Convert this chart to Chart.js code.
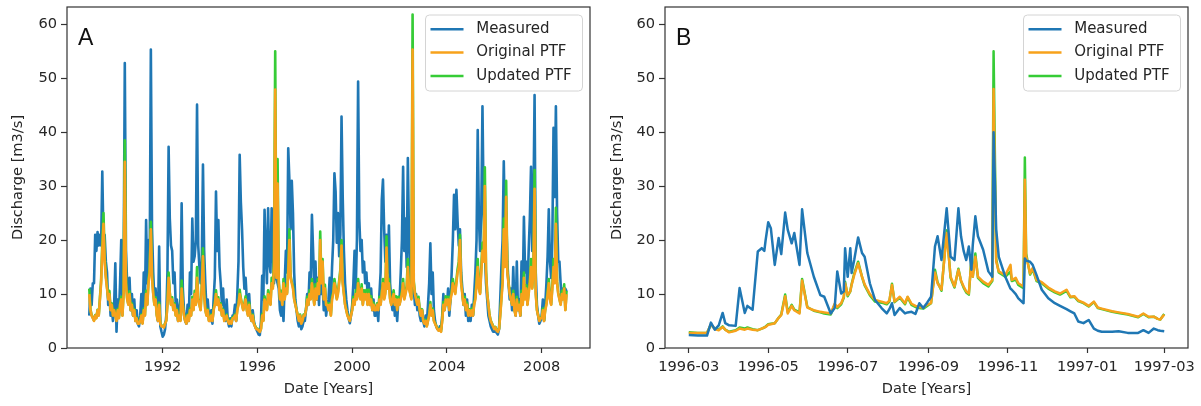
<!DOCTYPE html>
<html>
<head>
<meta charset="utf-8">
<script src="https://cdn.jsdelivr.net/npm/chart.js@4.4.1/dist/chart.umd.min.js"></script>
<style>
  html, body { margin: 0; padding: 0; background: #fff; }
  #wrap { position: relative; width: 1201px; height: 406px; overflow: hidden; }
  canvas { position: absolute; top: 0; }
  #chartA { left: 0; }
  #chartB { left: 600px; }
</style>
</head>
<body>
<div id="wrap">
  <canvas id="chartA" width="600" height="406"></canvas>
  <canvas id="chartB" width="601" height="406"></canvas>
</div>
<script>
// ---- shared ----
const seriesNames = ['Measured', 'Original PTF', 'Updated PTF'];
const seriesColors = ['#1f77b4', '#f7a21b', '#36cc36'];
const yTicks = [0, 10, 20, 30, 40, 50, 60];
const yMax = 63.2;

// ---- panel A: 1988.9 - 2009.05, one sample every 0.05 yr ----
const startA = 1988.9;
const stepA = 0.05;
const xTicksA = [1992, 1996, 2000, 2004, 2008];

const measuredA = [
  6, 11,
  8, 12, 12, 21, 18, 21.5, 19, 21, 19, 32.7, 20, 21, 16, 14, 8, 10, 6, 7.5, 5, 8,        // 1989
  15.7, 3, 9, 6, 12, 20, 9, 14, 52.8, 18, 12, 9, 13, 7, 10, 6, 9, 5, 7, 4.5,             // 1990
  4, 6, 10, 5, 14, 8, 23.7, 12, 20, 15, 55.3, 22, 14, 9, 11, 7, 5, 18.8, 4, 3,           // 1991
  2.1, 2.5, 3.5, 6, 14, 37.3, 24, 19, 18, 12, 14, 8, 9, 5, 7, 9, 26.8, 11, 7, 5,         // 1992
  4.5, 8, 5, 14, 10, 24, 16, 17, 20, 45.1, 19, 15, 12, 16, 34, 18, 12, 7, 9, 6,          // 1993
  5, 7, 4.5, 9, 13, 29, 18, 23.7, 15, 12, 8, 11, 6, 5, 9, 5, 4, 5.5, 4, 6,               // 1994
  6, 8, 5, 10, 16, 35.8, 27, 22, 15, 11, 13, 9, 7, 10, 6, 5, 7, 5, 4, 3.5,               // 1995
  3, 2.5, 2.4, 5, 13.4, 9, 25.6, 18, 12, 25.9, 16, 14, 25.9, 18, 12, 20, 13, 12, 11, 7,  // 1996
  6, 9, 5, 12, 18, 14, 37, 31, 22, 31, 25, 14, 9, 7, 5, 4, 6, 3.5, 4, 5,                 // 1997
  5, 7, 10, 8, 14, 12, 24.7, 18, 11, 16, 9, 13, 8, 15, 10, 12, 7, 10, 6, 8,              // 1998
  9, 13, 8, 15, 20, 32.4, 29, 19.5, 25, 17, 21, 42.9, 28, 18, 12, 9, 7, 5.5, 4.6, 6,     // 1999
  8, 12, 18, 11, 20, 49.4, 24, 18, 20, 14, 16, 12, 14, 10, 12, 8, 11, 7, 9, 6,           // 2000
  6, 8, 5, 10, 14, 27.5, 31.2, 22, 16, 21, 14, 22.7, 12, 9, 7, 10, 6, 8, 5, 9,           // 2001
  9, 14, 20, 33.6, 18, 24, 15, 35.2, 20, 13, 10, 18, 11, 8, 10, 7, 9, 6, 5, 7,           // 2002
  5, 4, 6, 4.5, 8, 12, 19.4, 10, 14, 7, 5, 4, 3.5, 3.3, 4, 3.5, 6, 10, 7, 9,             // 2003
  8, 11, 6, 9, 14, 20, 28.4, 22, 29.3, 23.5, 19, 22, 14, 11, 8, 10, 6, 9, 5, 7,          // 2004
  5, 8, 6, 10, 14, 20, 40.4, 24, 18, 25, 44.8, 26, 18, 12, 9, 6, 5, 4, 3.5, 3,           // 2005
  3, 3.3, 2.8, 2.5, 3.5, 9, 15, 20, 34.6, 22, 25, 16, 12, 9, 11, 7, 15, 8, 6, 16,        // 2006
  7, 9, 6, 16, 10, 24.3, 14, 16, 10, 18, 24, 33.6, 18, 26, 46.9, 14, 8, 6, 4.5, 5,       // 2007
  6, 9, 5, 8, 12, 17, 25.7, 16, 13, 20, 40.8, 28, 44.8, 25, 16, 16, 12, 9, 11, 10,       // 2008
  11, 10.5
];

const originalA = [
  10, 7,
  6, 5.5, 5, 6, 5.5, 7, 6, 9, 12, 18, 23, 16, 13, 11, 9, 10, 7, 8, 6, 7,                 // 1989
  6, 5, 7, 5.5, 8, 9, 6, 10, 34.5, 12, 9, 8, 10, 7, 8, 6, 7, 5, 5.5, 4.5,                // 1990
  4.5, 5, 6, 4.5, 7, 6, 10, 8, 12, 14, 22, 13, 10, 8, 9, 6, 5, 8, 4.5, 4,                // 1991
  4, 3.8, 4.5, 5, 8, 13, 10, 8, 9, 7, 8, 6, 7, 5, 6, 5, 11, 8, 6, 5,                     // 1992
  4.5, 6, 5, 7, 6, 9, 7, 10, 8, 13, 9, 8, 7, 11, 17, 10, 7, 6, 7, 5,                     // 1993
  5, 6, 5, 7, 8, 10, 8, 9, 7, 8, 6, 7, 5, 5.5, 6, 5, 4.5, 5, 4.5, 5.5,                   // 1994
  5.5, 6, 5, 7, 8, 10, 9, 8, 7, 8, 9, 7, 6, 8, 6, 5, 6, 4.5, 4, 3.5,                     // 1995
  3.5, 3.2, 3, 3.5, 6, 5, 9, 8, 7, 10, 9, 8, 12, 11, 15, 47.9, 13, 30.5, 12, 9,          // 1996
  10, 8, 12, 9, 11, 10, 14, 20, 13, 12, 11, 9, 8, 7, 6, 5, 6, 4.5, 5, 6,                 // 1997
  6, 7, 9, 8, 10, 9, 12, 10, 8, 11, 9, 12, 10, 20, 12, 16, 9, 11, 8, 8,                  // 1998
  7, 8, 6, 9, 10, 12, 11, 9, 10, 12, 14, 19, 12, 10, 8, 7, 6, 5.5, 5, 6,                 // 1999
  7, 9, 8, 10, 9, 12, 10, 9, 11, 8, 10, 9, 10, 8, 10, 8, 9, 7, 8, 7,                     // 2000
  7, 8, 7, 9, 8, 10, 12, 9, 10, 18.6, 11, 12, 9, 8, 9, 10, 8, 9, 7, 9,                   // 2001
  8, 9, 10, 12, 9, 10, 11, 15, 11, 10, 9, 55.3, 12, 10, 9, 8, 9, 7, 6, 7,                // 2002
  5, 4.5, 5, 4, 5, 6, 8, 6, 7, 5, 4.5, 4, 3.5, 3.2, 3.5, 3, 5, 8, 7, 9,                  // 2003
  8, 9, 7, 9, 10, 12, 11, 10, 12, 14, 15, 20, 12, 10, 8, 9, 7, 8, 6, 7,                  // 2004
  6, 7, 6, 8, 9, 12, 15, 11, 10, 14, 18, 16, 30, 14, 10, 8, 6, 5, 4.5, 4,                // 2005
  3.5, 3.8, 3.2, 3, 3.5, 6, 9, 12, 22, 15, 28, 14, 12, 10, 9, 8, 10, 7, 6, 9,            // 2006
  7, 8, 6, 10, 8, 13, 9, 11, 8, 10, 12, 15, 11, 14, 29.5, 10, 7, 6, 5, 5.5,              // 2007
  5.5, 7, 5, 7, 8, 10, 12, 9, 8, 11, 15, 12, 23, 12, 10, 9, 8, 10, 9, 11,                // 2008
  7, 10
];

const updatedA = [
  11, 7.2,
  6.1, 5.6, 5.1, 6.1, 5.6, 7.1, 6.1, 9.3, 12.6, 19.5, 25, 17, 13.5, 11.3, 9.2, 10.6, 7.1, 8.3, 6.1, 7.1,      // 1989
  6.1, 5.1, 7.2, 5.6, 8.3, 9.5, 6.1, 10.5, 38.5, 12.6, 9.2, 8.1, 10.5, 7.1, 8.3, 6.1, 7.2, 5.1, 5.6, 4.6,     // 1990
  4.6, 5.1, 6.2, 4.6, 7.3, 6.1, 10.6, 8.1, 12.6, 15, 23.4, 13.5, 10.2, 8.1, 9.4, 6.1, 5.1, 8.4, 4.6, 4.1,     // 1991
  4.1, 3.9, 4.6, 5.1, 8.3, 14, 10.3, 8.1, 9.4, 7.1, 8.3, 6.1, 7.2, 5.1, 6.2, 5.1, 12.5, 8.2, 6.1, 5.1,        // 1992
  4.6, 6.2, 5.1, 7.3, 6.1, 9.5, 7.1, 10.6, 8.1, 15, 9.2, 8.1, 7.1, 11.6, 18.5, 10.3, 7.1, 6.1, 7.2, 5.1,      // 1993
  5.1, 6.2, 5.1, 7.3, 8.3, 10.7, 8.1, 9.4, 7.1, 8.3, 6.1, 7.2, 5.1, 5.6, 6.2, 5.1, 4.6, 5.2, 4.6, 5.7,        // 1994
  5.6, 6.2, 5.1, 7.2, 8.3, 10.8, 9.2, 8.1, 7.1, 8.3, 9.6, 7.1, 6.1, 8.4, 6.1, 5.1, 6.2, 4.6, 4.1, 3.6,        // 1995
  3.6, 3.3, 3.1, 3.6, 6.3, 5.1, 9.6, 8.1, 7.1, 10.7, 9.2, 8.1, 13, 11.3, 16.5, 55, 13.5, 35, 12.5, 9.2,       // 1996
  10.6, 8.1, 12.8, 9.2, 11.7, 10.2, 15.2, 22, 13.4, 12.2, 11.5, 9.2, 8.1, 7.1, 6.1, 5.1, 6.2, 4.6, 5.1, 6.2,  // 1997
  6.1, 7.2, 9.5, 8.1, 10.7, 9.2, 12.8, 10.2, 8.1, 11.8, 9.2, 12.8, 10.2, 21.6, 12.3, 16.5, 9.2, 11.7, 8.1, 8.3, // 1998
  7.1, 8.3, 6.1, 9.5, 10.3, 12.8, 11.3, 9.2, 10.4, 12.5, 14.5, 20, 12.3, 10.2, 8.1, 7.1, 6.1, 5.6, 5.1, 6.2,  // 1999
  7.1, 9.5, 8.1, 10.7, 9.2, 12.8, 10.2, 9.2, 11.8, 8.1, 10.7, 9.2, 10.8, 8.1, 10.8, 8.1, 9.6, 7.1, 8.4, 7.1,  // 2000
  7.1, 8.3, 7.1, 9.5, 8.1, 10.5, 12.8, 9.2, 10.4, 20.7, 11.2, 12.8, 9.2, 8.1, 9.4, 10.7, 8.1, 9.6, 7.1, 9.5,  // 2001
  8.1, 9.4, 10.5, 12.8, 9.2, 10.4, 11.5, 16.5, 11.3, 10.2, 9.2, 61.8, 12.4, 10.2, 9.2, 8.1, 9.5, 7.1, 6.1, 7.2, // 2002
  5.1, 4.6, 5.2, 4.1, 5.1, 6.2, 8.5, 6.1, 7.3, 5.1, 4.6, 4.1, 3.6, 3.3, 3.6, 3.1, 5.2, 8.5, 7.1, 9.6,        // 2003
  8.1, 9.5, 7.1, 9.4, 10.4, 12.8, 11.2, 10.2, 12.6, 14.6, 16, 21, 12.3, 10.2, 8.1, 9.5, 7.1, 8.4, 6.1, 7.2,   // 2004
  6.1, 7.3, 6.1, 8.3, 9.4, 12.6, 16.5, 11.3, 10.2, 15, 19.5, 17, 33.5, 14.5, 10.2, 8.1, 6.1, 5.1, 4.6, 4.1,   // 2005
  3.6, 3.9, 3.3, 3.1, 3.6, 6.2, 9.4, 12.6, 24, 15.5, 31, 14.5, 12.2, 10.2, 9.2, 8.1, 10.6, 7.1, 6.1, 9.5,     // 2006
  7.1, 8.4, 6.1, 10.6, 8.1, 14, 9.2, 11.6, 8.1, 10.5, 12.6, 16.5, 11.2, 14.8, 33, 10.3, 7.1, 6.1, 5.1, 5.6,   // 2007
  5.6, 7.3, 5.1, 7.2, 8.3, 10.5, 12.8, 9.2, 8.1, 11.6, 16.5, 12.3, 26, 12.3, 10.2, 9.2, 8.1, 10.6, 9.2, 11.8, // 2008
  7.1, 10.6
];

// ---- panel B: days since 1996-03-01 ----
const xTicksB = [0, 61, 122, 184, 245, 306, 365];
const xLabelsB = ['1996-03', '1996-05', '1996-07', '1996-09', '1996-11', '1997-01', '1997-03'];

const daysB = [
  0, 7, 14, 17, 20, 23, 26, 28, 31, 36,
  39, 43, 45, 49, 53, 56, 58, 59, 61, 63,
  66, 69, 71, 74, 76, 79, 81, 85, 87, 91,
  96, 101, 104, 109, 112, 114, 117, 119, 120, 122,
  124, 125, 127, 130, 133, 135, 139, 143, 148, 152,
  154, 156, 158, 162, 166, 168, 171, 174, 177, 180,
  183, 186, 189, 191, 194, 198, 201, 204, 207, 209,
  211, 213, 215, 217, 218, 220, 222, 226, 230, 233,
  234, 236, 238, 243, 247, 248, 251, 253, 257, 258,
  259, 262, 264, 267, 271, 276, 281, 285, 290, 293,
  296, 299, 303, 307, 311, 314, 317, 325, 330, 337,
  345, 349, 353, 357, 360, 362, 365
];

const measuredB = [
  2.4, 2.3, 2.3, 4.7, 3.4, 4.2, 6.5, 4.6, 4.2, 4.1,
  11.1, 6.5, 7.8, 7.1, 17.9, 18.5, 18.0, 20, 23.3, 22.2,
  15.4, 20.4, 17.4, 25.1, 21.9, 19.4, 21.3, 15.4, 25.7, 17.6,
  13.2, 9.8, 9.5, 6.4, 7.4, 14.2, 10.1, 10.5, 18.5, 13.2,
  18.5, 13.9, 16.3, 20.5, 17.6, 16.9, 12.0, 8.9, 7.4, 6.4,
  7.2, 8.3, 6.1, 7.4, 6.4, 6.6, 6.7, 6.3, 8.3, 7.4,
  8.4, 9.5, 18.8, 20.7, 16.3, 25.9, 16.9, 16.3, 25.9, 20.7,
  18.0, 16.3, 18.8, 14.5, 19.0, 24.4, 20.7, 18.2, 14.2, 13.2,
  40, 22, 16.9, 13.2, 11.0, 10.8, 10.0, 9.2, 8.3, 16.6,
  16.2, 16.0, 15.4, 13.5, 10.8, 9.2, 8.3, 7.8, 7.2, 6.8,
  6.4, 4.9, 4.6, 5.2, 3.6, 3.2, 3.0, 3.0, 3.1, 2.8,
  2.8, 3.3, 2.8, 3.6, 3.3, 3.2, 3.1
];

const originalB = [
  2.8, 2.8, 2.8, 4.4, 3.5, 3.3, 3.9, 3.4, 2.9, 3.2,
  3.6, 3.4, 3.6, 3.4, 3.3, 3.6, 3.8, 3.9, 4.3, 4.4,
  4.6, 5.6, 6.1, 9.6, 6.4, 7.8, 7.0, 6.4, 12.5, 7.5,
  7.0, 6.7, 6.6, 6.4, 8.2, 7.6, 8.3, 9.5, 12.0, 9.8,
  10.5, 11.7, 13.5, 15.7, 13.2, 11.8, 10.0, 8.9, 8.6, 8.3,
  8.8, 11.7, 8.6, 9.5, 8.3, 9.5, 8.2, 7.8, 7.6, 7.5,
  8.0, 8.3, 14.0, 12.0, 10.8, 21.3, 13.2, 11.4, 14.5, 12.5,
  11.4, 10.5, 10.1, 16.3, 13.2, 16.9, 13.2, 12.3, 11.7, 12.6,
  48, 16, 14.2, 13.5, 15.4, 12.6, 13.0, 12.0, 11.4, 31.2,
  17, 13.8, 14.8, 12.6, 12.2, 11.2, 10.5, 10.1, 10.8, 9.5,
  9.6, 8.8, 8.4, 7.8, 8.6, 7.5, 7.3, 6.8, 6.6, 6.3,
  5.8, 6.4, 5.8, 5.8, 5.4, 5.3, 6.2
];

const updatedB = [
  2.9, 2.8, 2.8, 4.3, 3.6, 3.4, 4.0, 3.4, 3.0, 3.3,
  3.8, 3.6, 3.8, 3.5, 3.3, 3.6, 3.8, 4.0, 4.4, 4.5,
  4.6, 5.6, 6.2, 9.9, 6.6, 8.0, 7.1, 6.6, 12.8, 7.6,
  6.9, 6.6, 6.4, 6.2, 8.0, 7.4, 8.1, 9.3, 12.3, 9.6,
  10.5, 11.8, 13.8, 16.0, 13.2, 11.6, 9.8, 8.6, 8.4, 8.1,
  8.6, 11.9, 8.5, 9.3, 8.1, 9.4, 8.0, 7.6, 7.4, 7.3,
  7.8, 8.3, 14.5, 12.2, 10.6, 21.8, 13.0, 11.2, 14.7, 12.4,
  11.2, 10.3, 9.9, 16.5, 13.2, 17.5, 13.0, 12.0, 11.4, 12.4,
  55, 16.5, 14.0, 13.2, 14.2, 12.4, 12.7, 11.7, 11.1, 35.3,
  17.5, 13.6, 14.6, 12.4, 12.0, 11.0, 10.3, 9.9, 10.6, 9.4,
  9.5, 8.7, 8.3, 7.7, 8.5, 7.4, 7.2, 6.7, 6.5, 6.2,
  5.7, 6.3, 5.7, 5.8, 5.4, 5.3, 6.3
];

// ---- helpers ----
const textColor = '#262626';
const axisFont = { family: "'DejaVu Sans', sans-serif", size: 14.6 };

function pointsA(values) {
  return values.map((v, i) => ({ x: startA + i * stepA, y: v }));
}

function pointsB(values) {
  return values.map((v, i) => ({ x: daysB[i], y: v }));
}

// drawOrder: lower number is painted later (on top)
function makeDatasets(seriesList, width, drawOrder) {
  return seriesList.map((data, i) => ({
    label: seriesNames[i],
    data: data,
    order: drawOrder[i],
    borderColor: seriesColors[i],
    borderWidth: width,
    pointRadius: 0,
    tension: 0,
    fill: false,
    borderJoinStyle: 'round'
  }));
}

function roundRect(ctx, x, y, w, h, r) {
  ctx.beginPath();
  ctx.moveTo(x + r, y);
  ctx.lineTo(x + w - r, y);
  ctx.arcTo(x + w, y, x + w, y + r, r);
  ctx.lineTo(x + w, y + h - r);
  ctx.arcTo(x + w, y + h, x + w - r, y + h, r);
  ctx.lineTo(x + r, y + h);
  ctx.arcTo(x, y + h, x, y + h - r, r);
  ctx.lineTo(x, y + r);
  ctx.arcTo(x, y, x + r, y, r);
  ctx.closePath();
}

// axes frame, panel letter and the boxed legend in the upper right
const panelDecor = {
  id: 'panelDecor',
  afterDraw(chart, args, opts) {
    const { ctx, chartArea: a } = chart;
    ctx.save();
    ctx.strokeStyle = '#333';
    ctx.lineWidth = 1.2;
    ctx.strokeRect(a.left, a.top, a.right - a.left, a.bottom - a.top);

    ctx.fillStyle = '#111';
    ctx.font = "23px 'Liberation Sans', Arial, sans-serif";
    ctx.textBaseline = 'alphabetic';
    ctx.textAlign = 'left';
    ctx.fillText(opts.letter, a.left + 11, a.top + 37.5);

    const w = 157, h = 76;
    const x0 = a.right - 7.5 - w, y0 = a.top + 8;
    roundRect(ctx, x0, y0, w, h, 4);
    ctx.fillStyle = 'rgba(255,255,255,0.8)';
    ctx.fill();
    ctx.strokeStyle = '#d4d4d4';
    ctx.lineWidth = 1;
    ctx.stroke();

    ctx.font = "15px 'DejaVu Sans', sans-serif";
    ctx.textBaseline = 'middle';
    chart.data.datasets.forEach((ds, i) => {
      const yy = y0 + 14.3 + i * 23.3;
      ctx.strokeStyle = ds.borderColor;
      ctx.lineWidth = 2.5;
      ctx.beginPath();
      ctx.moveTo(x0 + 5, yy);
      ctx.lineTo(x0 + 38, yy);
      ctx.stroke();
      ctx.fillStyle = textColor;
      ctx.fillText(ds.label, x0 + 50.7, yy);
    });
    ctx.restore();
  }
};

function zeroPadding(s) {
  s.paddingTop = 0; s.paddingBottom = 0; s.paddingLeft = 0; s.paddingRight = 0;
}

function makeChart(id, datasets, cfg) {
  return new Chart(document.getElementById(id), {
    type: 'line',
    data: { datasets },
    plugins: [panelDecor],
    options: {
      responsive: false,
      animation: false,
      devicePixelRatio: 1,
      events: [],
      layout: { padding: { left: 0, right: cfg.padRight, top: 7, bottom: 0 } },
      plugins: {
        legend: { display: false },
        tooltip: { enabled: false },
        panelDecor: { letter: cfg.letter }
      },
      scales: {
        x: {
          type: 'linear',
          min: cfg.xMin,
          max: cfg.xMax,
          afterBuildTicks: s => { s.ticks = cfg.xTicks.map(v => ({ value: v })); },
          afterFit: s => { s.height = 58; zeroPadding(s); },
          ticks: {
            autoSkip: false, maxRotation: 0, padding: 5,
            color: textColor, font: axisFont,
            callback: cfg.xLabel
          },
          grid: { drawOnChartArea: false, drawTicks: true, tickLength: 5, color: '#333', tickWidth: 1.2 },
          border: { display: false },
          title: {
            display: true, text: 'Date [Years]', color: textColor, font: axisFont,
            padding: { top: 0, bottom: 8 }
          }
        },
        y: {
          min: 0,
          max: yMax,
          afterBuildTicks: s => { s.ticks = yTicks.map(v => ({ value: v })); },
          afterFit: s => { s.width = cfg.yWidth; zeroPadding(s); },
          ticks: { padding: 4, color: textColor, font: axisFont },
          grid: { drawOnChartArea: false, drawTicks: true, tickLength: 6, color: '#333', tickWidth: 1.2 },
          border: { display: false },
          title: {
            display: true, text: 'Discharge [m3/s]', color: textColor, font: axisFont,
            padding: { top: cfg.yTitlePad, bottom: 0 }
          }
        }
      }
    }
  });
}

// long record: model runs painted over the measured series
makeChart('chartA',
  makeDatasets([pointsA(measuredA), pointsA(originalA), pointsA(updatedA)], 2.6, [3, 1, 2]),
  {
    letter: 'A', padRight: 10, yWidth: 67, yTitlePad: 9.5,
    xMin: 1987.96, xMax: 2010.04, xTicks: xTicksA,
    xLabel: v => String(v)
  });

// one-year zoom: measured series on top
makeChart('chartB',
  makeDatasets([pointsB(measuredB), pointsB(originalB), pointsB(updatedB)], 2.5, [0, 1, 2]),
  {
    letter: 'B', padRight: 13, yWidth: 65, yTitlePad: 8,
    xMin: -18.25, xMax: 383.25, xTicks: xTicksB,
    xLabel: v => xLabelsB[xTicksB.indexOf(v)]
  });
</script>
</body>
</html>
